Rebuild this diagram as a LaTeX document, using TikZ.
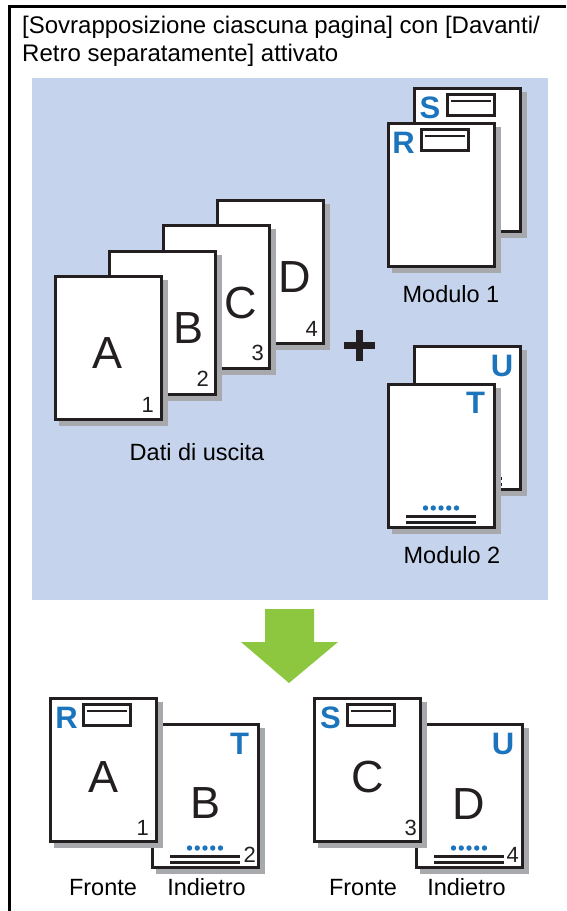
\documentclass[tikz,border=0pt]{standalone}
\usepackage{fontspec}
\setmainfont{Liberation Sans}
\definecolor{panelc}{HTML}{C5D4EC}
\definecolor{greenc}{HTML}{8DC63F}
\definecolor{bluec}{HTML}{1C75BC}
\definecolor{shadowc}{HTML}{A7A9AC}
\definecolor{ink}{HTML}{231F20}
\tikzset{
  pageline/.style={draw=ink, line width=3pt},
  sheet/.pic={
    \fill[shadowc] (5,5) rectangle (114,151);
    \draw[pageline, fill=white] (1.5,1.5) rectangle (107.5,144.5);
  },
  formbox/.pic={
    \draw[pageline] (34.5,7.5) rectangle (81.5,28.5);
    \draw[draw=ink, line width=2.2pt] (38,14) -- (78,14);
  },
  footer/.pic={
    \foreach \i in {0,...,4}{\fill[bluec] (38.5+7.75*\i,125) circle (2.7);}
    \draw[draw=ink, line width=2.2pt] (19,133.5) -- (89,133.5) (19,139.5) -- (89,139.5);
  },
  lbl/.style={font=\fontsize{23.5}{28}\selectfont, inner sep=0pt, anchor=base, text=black},
  big/.style={font=\fontsize{45}{50}\selectfont, inner sep=0pt, anchor=base, text=ink},
  num/.style={font=\fontsize{22}{24}\selectfont, inner sep=0pt, anchor=base east, text=ink},
  blueltr/.style={font=\fontsize{31}{34}\selectfont\bfseries, inner sep=0pt, anchor=base, text=bluec},
}
\begin{document}
\begin{tikzpicture}[x=1pt, y=-1pt]
\useasboundingbox (0,0) rectangle (566,911);
\fill[white] (0,0) rectangle (566,911);
% frame (open to right/bottom)
\draw[black, line width=3pt] (566,6.5) -- (9.5,6.5) -- (9.5,911);
% title
\node[lbl, anchor=base west, font=\fontsize{24}{28}\selectfont] (t1) at (22,33) {[Sovrapposizione ciascuna pagina] con [Davanti/};
\node[lbl, anchor=base west, font=\fontsize{24}{28}\selectfont] (t2) at (22,61.5) {Retro separatamente] attivato};
% panel
\fill[panelc] (32,78) rectangle (548,600);
% input pages
\pic at (216,198.5) {sheet};
\node[big] (D) at (294.5,292.5) {D};
\node[num] (n4) at (318,336) {4};
\pic at (162,224) {sheet};
\node[big] (C) at (241,318) {C};
\node[num] (n3) at (264,360) {3};
\pic at (108,249.5) {sheet};
\node[big] (B) at (188.5,343) {B};
\node[num] (n2) at (209,386) {2};
\pic at (54,275) {sheet};
\node[big] (A) at (108,368) {A};
\node[num] (n1) at (154,412) {1};
\node[lbl] (dati) at (197,460) {Dati di uscita};
% plus
\fill[ink] (356,330) rectangle (363,361);
\fill[ink] (344,342) rectangle (375,349);
% module 1
\pic at (413,87) {sheet};
\pic at (413,87) {formbox};
\node[blueltr] (S1) at (430,118) {S};
\pic at (387,122) {sheet};
\pic at (387,122) {formbox};
\node[blueltr] (R1) at (403.5,153) {R};
\node[lbl] (mod1) at (451,302.5) {Modulo 1};
% module 2
\pic at (413,345) {sheet};
\pic at (413,345) {footer};
\node[blueltr] (U2) at (502,376) {U};
\pic at (387,383) {sheet};
\pic at (387,383) {footer};
\node[blueltr] (T2) at (475.5,413) {T};
\node[lbl] (mod2) at (452,563) {Modulo 2};
% arrow
\fill[greenc] (265,609) -- (314,609) -- (314,642) -- (338,642) -- (289,683) -- (241,642) -- (265,642) -- cycle;
% output pair 1
\pic at (151,723) {sheet};
\pic at (151,723) {footer};
\node[blueltr] (T3) at (239.5,754) {T};
\node[big] (B3) at (206,818) {B};
\node[num] (m2) at (256,862) {2};
\pic at (49,697) {sheet};
\pic at (49,697) {formbox};
\node[blueltr] (R3) at (66.5,728) {R};
\node[big] (A3) at (104,792) {A};
\node[num] (m1) at (149,835) {1};
\node[lbl] (f1) at (103,895) {Fronte};
\node[lbl] (i1) at (206.5,895) {Indietro};
% output pair 2
\pic at (415,723) {sheet};
\pic at (415,723) {footer};
\node[blueltr] (U3) at (503,754) {U};
\node[big] (D3) at (468.5,819) {D};
\node[num] (m4) at (519,862) {4};
\pic at (313,697) {sheet};
\pic at (313,697) {formbox};
\node[blueltr] (S3) at (330.5,728) {S};
\node[big] (C3) at (368,792) {C};
\node[num] (m3) at (417,835) {3};
\node[lbl] (f2) at (363,895) {Fronte};
\node[lbl] (i2) at (466.5,895) {Indietro};
\end{tikzpicture}
\end{document}
